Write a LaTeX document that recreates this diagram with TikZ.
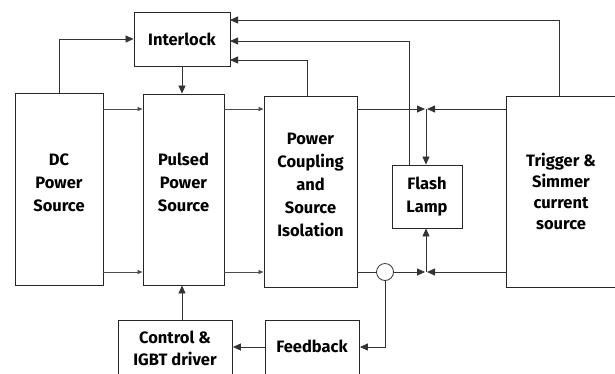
\documentclass[tikz,border=0pt]{standalone}
\usepackage{fontspec}
\setmainfont{Fira Sans}
\usetikzlibrary{arrows.meta}
\begin{document}
\begin{tikzpicture}[x=1pt,y=-1pt,
  box/.style={draw=black!85,line width=0.9pt,inner sep=0pt,font=\bfseries\fontsize{16.5}{23}\selectfont,align=center},
  lbl/.style={align=center,font=\bfseries\fontsize{16.5}{23}\selectfont},
  conn/.style={draw=black!80,line width=0.8pt},
  arr/.style={conn,-{Triangle[length=8pt,width=7pt]}},
  sarr/.style={draw=black!70,line width=0.8pt,-{Triangle[length=5pt,width=4pt]}},
  junc/.style={circle,draw=black!80,line width=0.8pt,fill=white,minimum size=17pt,inner sep=0pt}]
\useasboundingbox (0,0) rectangle (615,373);
\clip (0,0) rectangle (615,373);
% boxes
\node[box,minimum width=96pt,minimum height=54pt] (il) at (182,39) {Interlock};
\node[box,minimum width=88pt,minimum height=192pt] (dc) at (59,189) {};
\node[lbl] (dct) at (59,183) {DC\\Power\\Source};
\node[box,minimum width=81pt,minimum height=191pt] (pp) at (183.5,189.5) {};
\node[lbl] (ppt) at (183.5,182) {Pulsed\\Power\\Source};
\node[box,minimum width=93pt,minimum height=191pt] (pc) at (310.5,191.5) {};
\node[lbl] (pct) at (310.5,185) {Power\\Coupling\\and\\Source\\Isolation};
\node[box,minimum width=70pt,minimum height=63pt] (fl) at (427,196.5) {Flash\\Lamp};
\node[box,minimum width=112pt,minimum height=191pt,anchor=north west] (tr) at (506,96) {};
\node[lbl,font=\bfseries\fontsize{16.5}{21}\selectfont] (trt) at (561,191) {Trigger \&\\Simmer\\current\\source};
\node[box,minimum width=114pt,minimum height=65pt,anchor=north west] (cg) at (118,320) {};
\node[lbl,font=\bfseries\fontsize{16.5}{22}\selectfont] (cgt) at (175,348) {Control \&\\IGBT driver};
\node[box,minimum width=94pt,minimum height=65pt,anchor=north west] (fb) at (265,320) {};
\node[lbl] (fbt) at (312,346) {Feedback};
% junctions
\coordinate (jt) at (426,109);
\coordinate (jb) at (426,272);
\node[junc] (cc) at (385,272) {};
% DC -> interlock
\draw[arr] (dc.north) |- (il.west);
\draw[arr] (il.south) -- (pp.north -| il.south);
% DC -> pulsed
\draw[sarr] (dc.east |- jt) -- (pp.west |- jt);
\draw[sarr] (dc.east |- jb) -- (pp.west |- jb);
% pulsed -> coupling
\draw[sarr] (pp.east |- jt) -- (pc.west |- jt);
\draw[sarr] (pp.east |- jb) -- (pc.west |- jb);
% interlock feedback lines
\coordinate (i1) at (230,20);
\coordinate (i2) at (230,41);
\coordinate (i3) at (230,60);
\draw[arr] (tr.north -| 559,0) |- (i1);
\draw[arr] (fl.north -| 409,0) |- (i2);
\draw[arr] (pc.north -| 307,0) |- (i3);
% top bus
\draw[arr] (pc.east |- jt) -- ([xshift=-1pt]jt);
\draw[arr] (tr.west |- jt) -- ([xshift=1pt]jt);
\draw[arr] (jt) -- (fl.north -| jt);
% bottom bus
\draw[conn] (pc.east |- jb) -- (cc.west);
\draw[arr] (cc.east) -- ([xshift=-1pt]jb);
\draw[arr] (tr.west |- jb) -- ([xshift=1pt]jb);
\draw[arr] (jb) -- (fl.south -| jb);
% feedback
\draw[arr] (cc.south) |- (fb.east |- 0,347);
\draw[arr] (fb.west |- 0,347) -- (cg.east |- 0,347);
\draw[arr] (cg.north -| 182,0) -- (pp.south -| 182,0);
\end{tikzpicture}
\end{document}
